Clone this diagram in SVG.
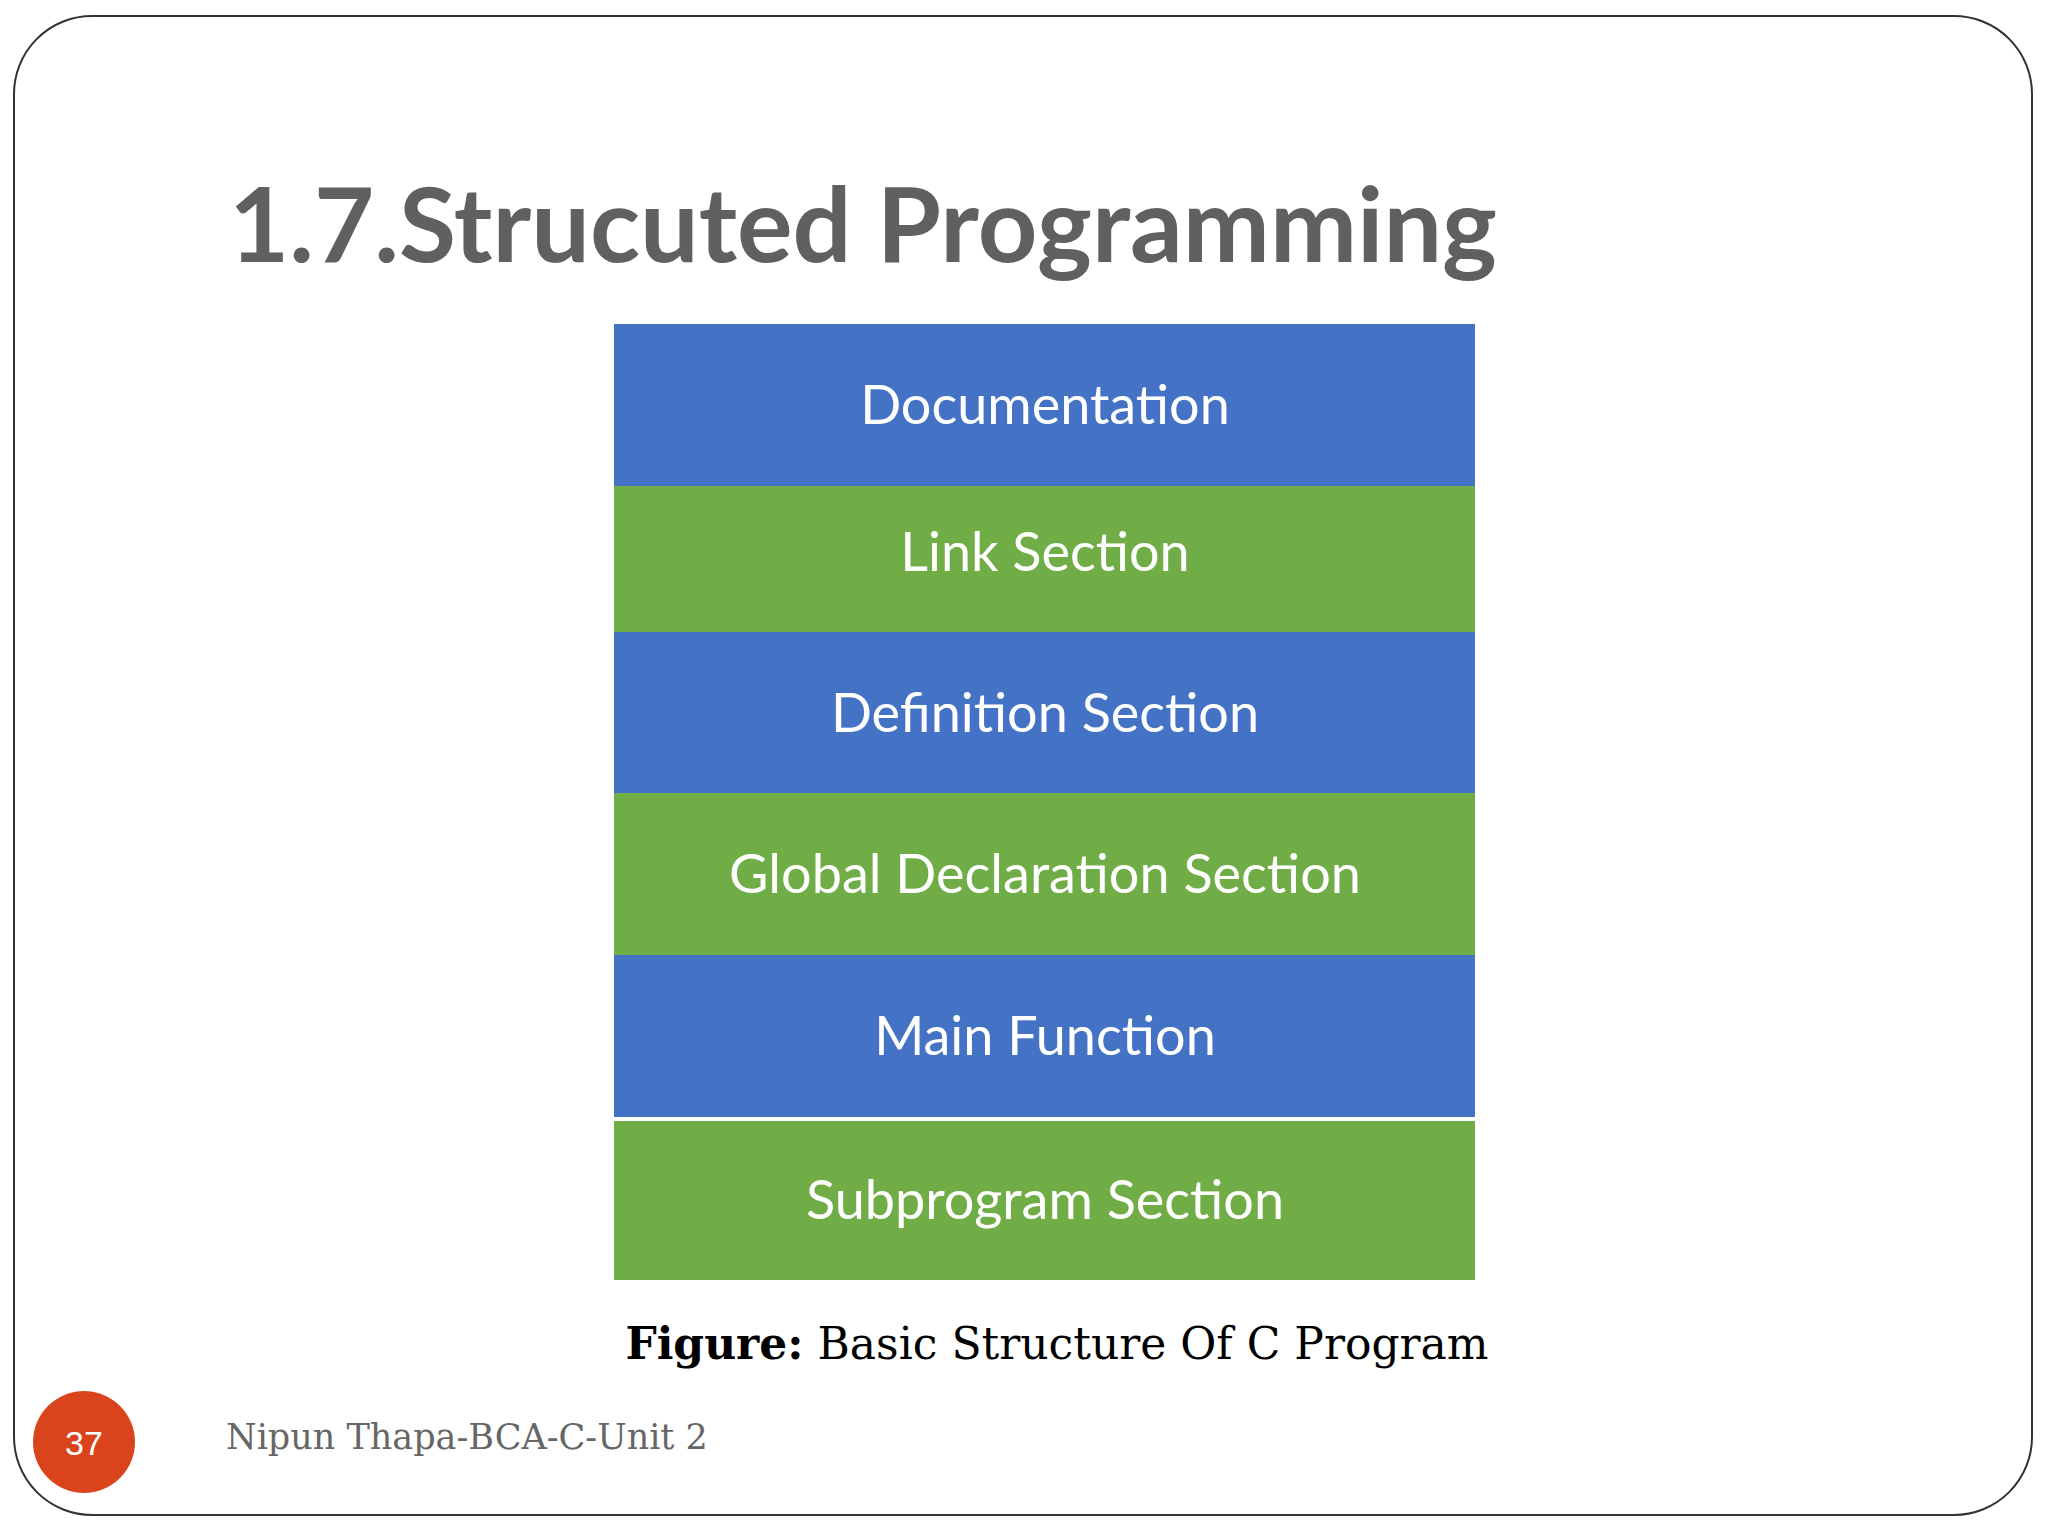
<svg xmlns="http://www.w3.org/2000/svg" width="2048" height="1536" viewBox="0 0 2048 1536">
<style>
.b{fill:#4472c4}.g{fill:#70ad47}
.t{font-family:Lato,"Open Sans",sans-serif;font-size:54px;fill:#fff;text-anchor:middle}
</style>
<rect width="2048" height="1536" fill="#fff"/>
<rect x="14" y="16" width="2018" height="1499" rx="78" fill="none" stroke="#333" stroke-width="2"/>
<text x="229" y="262" font-family="Lato,sans-serif" font-weight="bold" font-size="104" fill="#606060">1.7.Strucuted Programming</text>
<g id="documentation"><rect class="b" x="614" y="324" width="861" height="162"/><text class="t" x="1045" y="424">Documentation</text></g>
<g id="link"><rect class="g" x="614" y="486" width="861" height="146"/><text class="t" x="1045" y="571">Link Section</text></g>
<g id="definition"><rect class="b" x="614" y="632" width="861" height="161"/><text class="t" x="1045" y="732">Definition Section</text></g>
<g id="global"><rect class="g" x="614" y="793" width="861" height="162"/><text class="t" x="1045" y="893">Global Declaration Section</text></g>
<g id="main"><rect class="b" x="614" y="955" width="861" height="162"/><text class="t" x="1045" y="1055">Main Function</text></g>
<g id="subprogram"><rect class="g" x="614" y="1121" width="861" height="159"/><text class="t" x="1045" y="1219">Subprogram Section</text></g>
<g id="connectors"></g>
<text x="1057" y="1359" text-anchor="middle" font-family="DejaVu Serif,serif" font-size="44" fill="#000"><tspan font-weight="bold">Figure:</tspan> Basic Structure Of C Program</text>
<circle cx="84" cy="1442" r="51" fill="#d9441c"/>
<text x="84" y="1455" text-anchor="middle" font-family="Liberation Sans,sans-serif" font-size="34" fill="#fff">37</text>
<text x="226" y="1449" font-family="DejaVu Serif,serif" font-size="35" fill="#666">Nipun Thapa-BCA-C-Unit 2</text>
</svg>
